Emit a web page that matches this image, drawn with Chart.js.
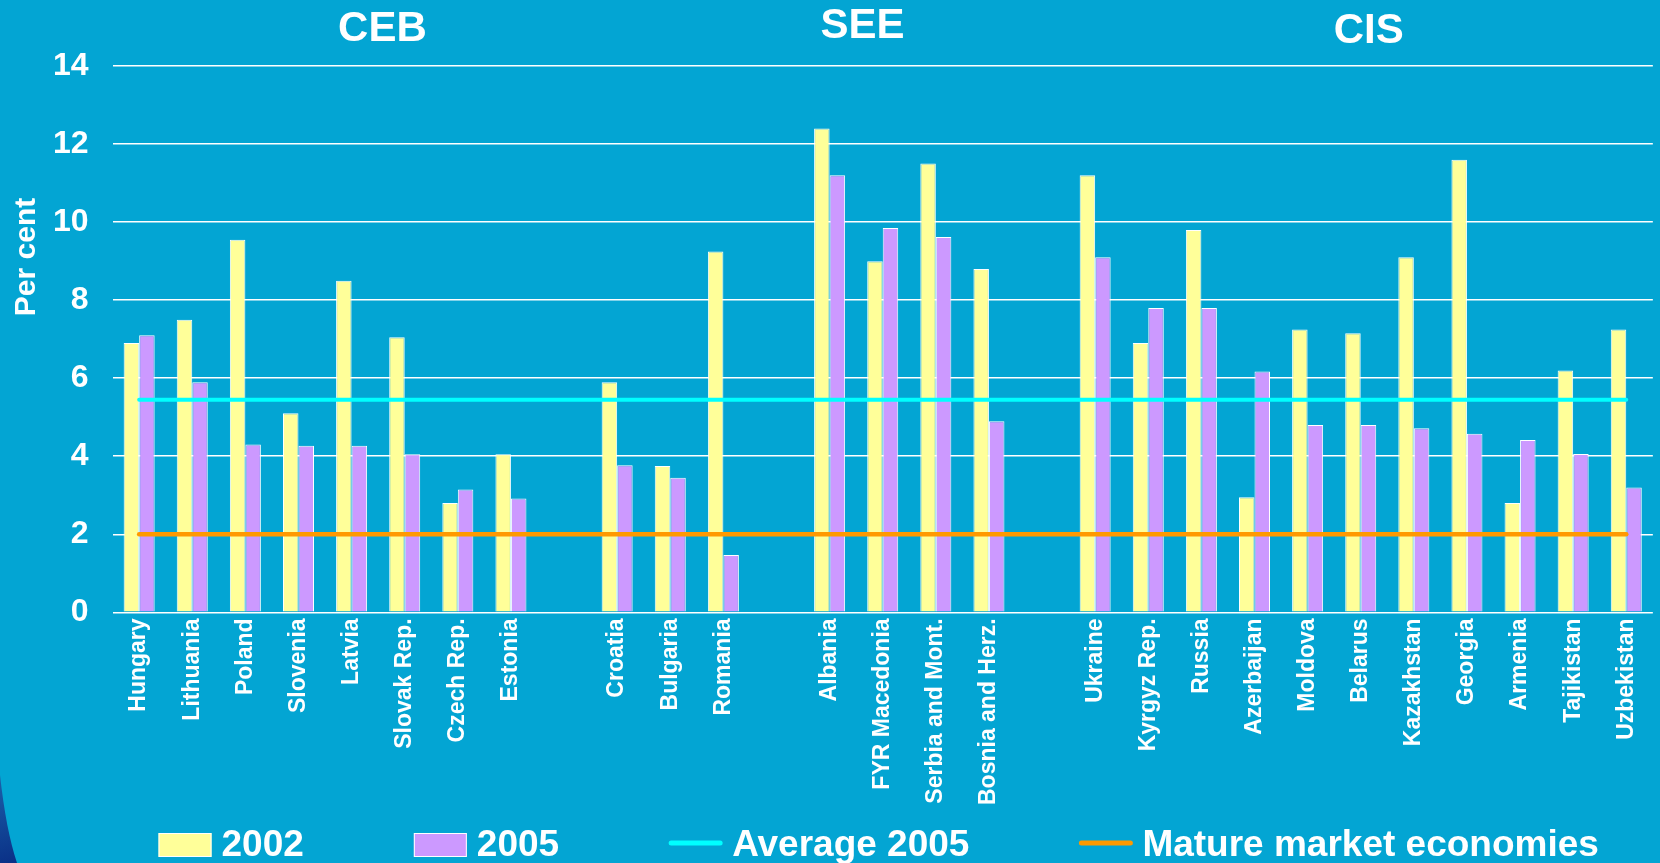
<!DOCTYPE html>
<html>
<head>
<meta charset="utf-8">
<script src="https://cdn.jsdelivr.net/npm/chart.js@4/dist/chart.umd.min.js"></script>
<style>
    html, body { margin: 0; padding: 0; background: #03a5d3; }
    #wrap { width: 1660px; height: 863px; position: relative; }
</style>
</head>
<body>
<div id="wrap"><canvas id="chart"></canvas></div>
<script>
// Data - '' marks the empty slot between regions
const countries = [
    'Hungary', 'Lithuania', 'Poland', 'Slovenia', 'Latvia', 'Slovak Rep.', 'Czech Rep.', 'Estonia', '',
    'Croatia', 'Bulgaria', 'Romania', '',
    'Albania', 'FYR Macedonia', 'Serbia and Mont.', 'Bosnia and Herz.', '',
    'Ukraine', 'Kyrgyz Rep.', 'Russia', 'Azerbaijan', 'Moldova', 'Belarus', 'Kazakhstan', 'Georgia', 'Armenia', 'Tajikistan', 'Uzbekistan'
];
const values2002 = [6.9, 7.5, 9.55, 5.1, 8.5, 7.05, 2.8, 4.05, null,
    5.9, 3.75, 9.25, null,
    12.4, 9.0, 11.5, 8.8, null,
    11.2, 6.9, 9.8, 2.95, 7.25, 7.15, 9.1, 11.6, 2.8, 6.2, 7.25];
const values2005 = [7.1, 5.9, 4.3, 4.27, 4.27, 4.05, 3.15, 2.92, null,
    3.77, 3.45, 1.47, null,
    11.2, 9.85, 9.62, 4.9, null,
    9.1, 7.8, 7.8, 6.17, 4.8, 4.8, 4.72, 4.58, 4.42, 4.06, 3.2];
const average2005 = 5.45;
const matureMarkets = 2.0;
const regions = ['CEB', 'SEE', 'CIS'];
const yTicks = [0, 2, 4, 6, 8, 10, 12, 14];
const yTitle = 'Per cent';

const FONT = '"Liberation Sans", Arial, sans-serif';
const BG = '#03a5d3';

// Region headers, placed over the category axis (index positions)
const regionAnchors = [4.58, 13.62, 23.15];
const regionY = [29, 26, 31];

const backgroundPlugin = {
    id: 'slideBackground',
    beforeDraw(chart) {
        const ctx = chart.ctx;
        ctx.save();
        ctx.fillStyle = BG;
        ctx.fillRect(0, 0, chart.width, chart.height);
        // dark swoosh in the bottom-left corner
        const grad = ctx.createLinearGradient(0, 780, 20, 863);
        grad.addColorStop(0, '#1a5fa8');
        grad.addColorStop(1, '#0a2f86');
        ctx.fillStyle = grad;
        ctx.beginPath();
        ctx.moveTo(0, 775);
        ctx.quadraticCurveTo(6, 830, 17, 863);
        ctx.lineTo(0, 863);
        ctx.closePath();
        ctx.fill();
        ctx.restore();
    }
};

const headerPlugin = {
    id: 'regionHeaders',
    afterDraw(chart) {
        const ctx = chart.ctx;
        const xScale = chart.scales.x;
        ctx.save();
        ctx.fillStyle = '#ffffff';
        ctx.font = 'bold 42px ' + FONT;
        ctx.textAlign = 'center';
        ctx.textBaseline = 'middle';
        regions.forEach((name, i) => {
            ctx.fillText(name, xScale.getPixelForValue(regionAnchors[i]), regionY[i]);
        });
        // axis title sits above the middle of the axis on the slide
        ctx.font = 'bold 30px ' + FONT;
        ctx.translate(27, 257);
        ctx.rotate(-Math.PI / 2);
        ctx.fillText(yTitle, 0, 0);
        ctx.restore();
    }
};

// Legend drawn by hand so the spacing can follow the slide
const legendPlugin = {
    id: 'slideLegend',
    afterDraw(chart) {
        const ctx = chart.ctx;
        const datasets = chart.data.datasets;
        const markW = 53, gap = 10, itemGap = 110, cy = 845;
        ctx.save();
        ctx.font = 'bold 37px ' + FONT;
        ctx.textBaseline = 'middle';
        const widths = datasets.map(ds => ctx.measureText(ds.label).width);
        const total = widths.reduce((a, b) => a + b, 0) + datasets.length * (markW + gap) + (datasets.length - 1) * itemGap;
        const area = chart.chartArea;
        let x = (area.left + area.right) / 2 - 4 - total / 2;
        datasets.forEach((ds, i) => {
            if (ds.type === 'line') {
                ctx.strokeStyle = ds.borderColor;
                ctx.lineWidth = 5;
                ctx.lineCap = 'round';
                ctx.beginPath();
                ctx.moveTo(x + 2, cy - 2);
                ctx.lineTo(x + markW - 2, cy - 2);
                ctx.stroke();
            } else {
                ctx.fillStyle = ds.backgroundColor;
                ctx.fillRect(x, cy - 12, markW, 24);
                ctx.strokeStyle = '#ffffff';
                ctx.lineWidth = 1;
                ctx.strokeRect(x + 0.5, cy - 11.5, markW - 1, 23);
            }
            x += markW + gap;
            ctx.fillStyle = '#ffffff';
            ctx.fillText(ds.label, x, cy + 1);
            x += widths[i] + itemGap;
        });
        ctx.restore();
    }
};

const ctx = document.getElementById('chart').getContext('2d');
const chart = new Chart(ctx, {
    type: 'bar',
    data: {
        labels: countries,
        datasets: [
            {
                label: '2002',
                data: values2002,
                backgroundColor: '#ffff99',
                borderColor: '#ffffff',
                borderWidth: 1,
                categoryPercentage: 0.584,
                barPercentage: 1,
                order: 1
            },
            {
                label: '2005',
                data: values2005,
                backgroundColor: '#cc99ff',
                borderColor: '#ffffff',
                borderWidth: 1,
                categoryPercentage: 0.584,
                barPercentage: 1,
                order: 1
            },
            {
                type: 'line',
                label: 'Average 2005',
                data: [{ x: countries[0], y: average2005 }, { x: countries[countries.length - 1], y: average2005 }],
                borderColor: '#00ffff',
                borderWidth: 4,
                borderCapStyle: 'round',
                pointRadius: 0,
                order: 0
            },
            {
                type: 'line',
                label: 'Mature market economies',
                data: [{ x: countries[0], y: matureMarkets }, { x: countries[countries.length - 1], y: matureMarkets }],
                borderColor: '#ff9900',
                borderWidth: 4.5,
                borderCapStyle: 'round',
                pointRadius: 0,
                order: 0
            }
        ]
    },
    options: {
        responsive: true,
        maintainAspectRatio: false,
        animation: false,
        layout: {
            padding: { left: 29, right: 7, top: 66, bottom: 52 }
        },
        plugins: {
            legend: { display: false },
            tooltip: { enabled: false }
        },
        scales: {
            x: {
                grid: { display: false, drawTicks: false },
                border: { display: false },
                ticks: {
                    color: '#ffffff',
                    font: { family: FONT, size: 23, weight: 'bold' },
                    minRotation: 90,
                    maxRotation: 90,
                    autoSkip: false,
                    padding: 6
                }
            },
            y: {
                min: 0,
                max: 14,
                afterBuildTicks(scale) {
                    scale.ticks = yTicks.map(v => ({ value: v }));
                },
                grid: { color: '#ffffff', lineWidth: 1.6, drawTicks: false },
                border: { display: false },
                ticks: {
                    color: '#ffffff',
                    font: { family: FONT, size: 32, weight: 'bold' },
                    padding: 24
                }
            }
        }
    },
    plugins: [backgroundPlugin, headerPlugin, legendPlugin]
});
</script>
</body>
</html>
